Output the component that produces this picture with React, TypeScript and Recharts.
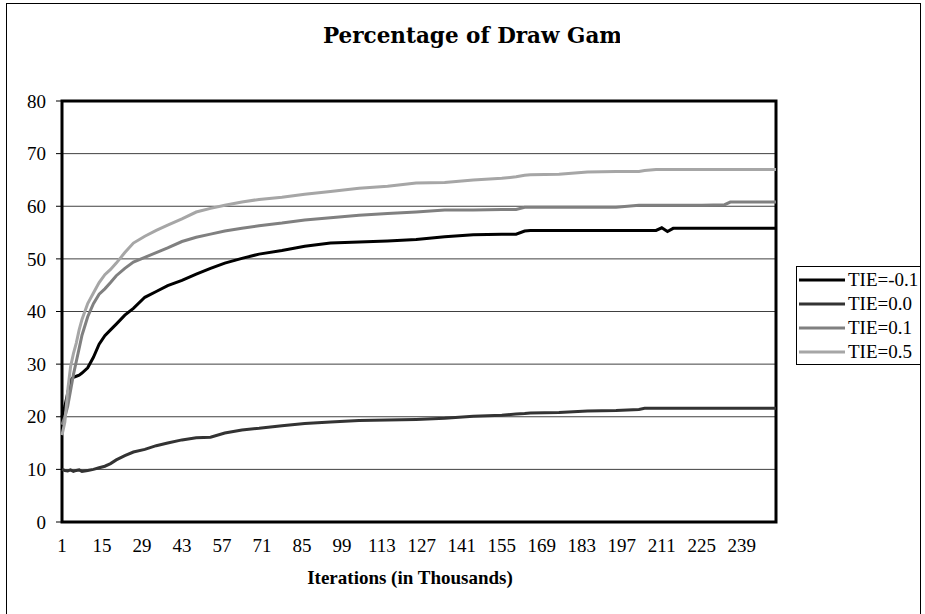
import React from 'react';
import { LineChart, Line, XAxis, YAxis, CartesianGrid, Legend, ReferenceArea } from 'recharts';

const iterations = [1, 2, 3, 4, 5, 6, 7, 8, 10, 12, 14, 16, 18, 20, 23, 26, 30, 34, 38, 43, 48, 53, 58, 64, 70, 78, 86, 95, 105, 115, 125, 135, 145, 155, 160, 163, 165, 175, 185, 195, 203, 205, 209, 211, 213, 215, 225, 233, 235, 251];

const tieNeg01 = [20, 22, 24.5, 27, 27.5, 27.7, 27.9, 28.3, 29.3, 31.3, 33.8, 35.4, 36.5, 37.6, 39.3, 40.6, 42.7, 43.8, 44.9, 45.9, 47.1, 48.2, 49.2, 50.1, 50.9, 51.6, 52.4, 53.0, 53.2, 53.4, 53.7, 54.2, 54.6, 54.7, 54.7, 55.3, 55.4, 55.4, 55.4, 55.4, 55.4, 55.4, 55.4, 55.9, 55.2, 55.8, 55.8, 55.8, 55.8, 55.8];
const tie00 = [10.0, 9.8, 9.7, 9.9, 9.6, 9.8, 9.9, 9.6, 9.8, 10.0, 10.3, 10.6, 11.1, 11.8, 12.6, 13.3, 13.8, 14.5, 15.0, 15.6, 16.0, 16.1, 16.9, 17.5, 17.8, 18.3, 18.7, 19.0, 19.3, 19.4, 19.5, 19.7, 20.1, 20.3, 20.5, 20.6, 20.7, 20.8, 21.1, 21.2, 21.4, 21.6, 21.6, 21.6, 21.6, 21.6, 21.6, 21.6, 21.6, 21.6];
const tie01 = [18.5, 20, 22, 25, 28, 30.5, 33, 35.5, 39, 41.5, 43.3, 44.3, 45.5, 46.8, 48.2, 49.4, 50.3, 51.2, 52.1, 53.3, 54.1, 54.7, 55.3, 55.8, 56.3, 56.8, 57.4, 57.8, 58.3, 58.6, 58.9, 59.3, 59.3, 59.4, 59.4, 59.8, 59.8, 59.8, 59.8, 59.8, 60.2, 60.2, 60.2, 60.2, 60.2, 60.2, 60.2, 60.3, 60.8, 60.8];
const tie05 = [16.5, 19, 25, 29.5, 32, 34, 36.5, 38.5, 41.5, 43.5, 45.5, 47, 48, 49.2, 51.2, 53, 54.3, 55.4, 56.4, 57.6, 58.9, 59.6, 60.2, 60.8, 61.3, 61.7, 62.3, 62.8, 63.4, 63.8, 64.4, 64.5, 65.0, 65.3, 65.6, 65.9, 66.0, 66.1, 66.5, 66.6, 66.6, 66.8, 67.0, 67.0, 67.0, 67.0, 67.0, 67.0, 67.0, 67.0];

const xTicks = [1, 15, 29, 43, 57, 71, 85, 99, 113, 127, 141, 155, 169, 183, 197, 211, 225, 239];
const yTicks = [0, 10, 20, 30, 40, 50, 60, 70, 80];
const seriesNames = ['TIE=-0.1', 'TIE=0.0', 'TIE=0.1', 'TIE=0.5'];
const titleText = 'Percentage of Draw Games';
const xAxisTitle = 'Iterations (in Thousands)';

const data = iterations.map((it, i) => ({
  it,
  s0: tieNeg01[i],
  s1: tie00[i],
  s2: tie01[i],
  s3: tie05[i],
}));

const serif = '"Liberation Serif", "Times New Roman", serif';

const LegendBox = (props: any) => {
  const payload = props.payload || [];
  return (
    <div style={{ border: '1px solid #000', background: '#fff', width: 125, height: 99, boxSizing: 'border-box', paddingTop: 1 }}>
      {payload.map((entry: any, i: number) => (
        <div key={i} style={{ height: 24, display: 'flex', alignItems: 'center' }}>
          <svg width={48} height={8} style={{ marginLeft: 2 }}>
            <line x1={0} y1={4} x2={46} y2={4} stroke={entry.color} strokeWidth={3} />
          </svg>
          <span style={{ fontFamily: serif, fontSize: 19, color: '#000', lineHeight: '24px', marginLeft: 1 }}>{entry.value}</span>
        </div>
      ))}
    </div>
  );
};

export default function App() {
  return (
    <div style={{ position: 'absolute', left: 0, top: 0, width: 925, height: 614, overflow: 'hidden', background: '#fff' }}>
      <div style={{ position: 'absolute', left: 6, top: 3, width: 915, height: 640, border: '1px solid #000', boxSizing: 'border-box' }} />
      <div style={{ position: 'absolute', left: 323, top: 24, width: 297, overflow: 'hidden', whiteSpace: 'nowrap', fontFamily: '"DejaVu Serif", serif', fontWeight: 'bold', fontSize: 21.5, lineHeight: '24px', color: '#000' }}>
        {titleText}
      </div>
      <div style={{ position: 'absolute', left: 0, top: 0 }}>
        <LineChart width={925} height={614} data={data} margin={{ top: 101, right: 149, bottom: 22, left: 0 }}>
          <CartesianGrid vertical={false} stroke="#404040" strokeWidth={1} />
          <XAxis
            dataKey="it"
            type="number"
            domain={[1, 251]}
            ticks={xTicks}
            interval={0}
            tickLine={false}
            axisLine={false}
            tickSize={0}
            tickMargin={17}
            height={70}
            tick={{ fontFamily: serif, fontSize: 19, fill: '#000' }}
            label={{ value: xAxisTitle, position: 'insideBottom', offset: 8, dx: -9, style: { fontFamily: serif, fontSize: 19, fontWeight: 'bold', fill: '#000' } }}
          />
          <YAxis
            type="number"
            domain={[0, 80]}
            ticks={yTicks}
            interval={0}
            width={62}
            axisLine={false}
            tickLine={{ stroke: '#000' }}
            tickSize={6}
            tickMargin={10}
            tick={{ fontFamily: serif, fontSize: 19, fill: '#000' }}
          />
          <Line type="linear" dataKey="s0" name={seriesNames[0]} stroke="#000000" strokeWidth={3} dot={false} isAnimationActive={false} />
          <Line type="linear" dataKey="s1" name={seriesNames[1]} stroke="#333333" strokeWidth={3} dot={false} isAnimationActive={false} />
          <Line type="linear" dataKey="s2" name={seriesNames[2]} stroke="#808080" strokeWidth={3} dot={false} isAnimationActive={false} />
          <Line type="linear" dataKey="s3" name={seriesNames[3]} stroke="#a6a6a6" strokeWidth={3} dot={false} isAnimationActive={false} />
          <ReferenceArea x1={1} x2={251} y1={0} y2={80} fill="none" stroke="#000" strokeWidth={3} ifOverflow="visible" />
          <Legend
            layout="horizontal"
            verticalAlign="middle"
            align="center"
            content={<LegendBox />}
            wrapperStyle={{ left: 796, top: 266, width: 125, height: 99 }}
          />
        </LineChart>
      </div>
    </div>
  );
}
